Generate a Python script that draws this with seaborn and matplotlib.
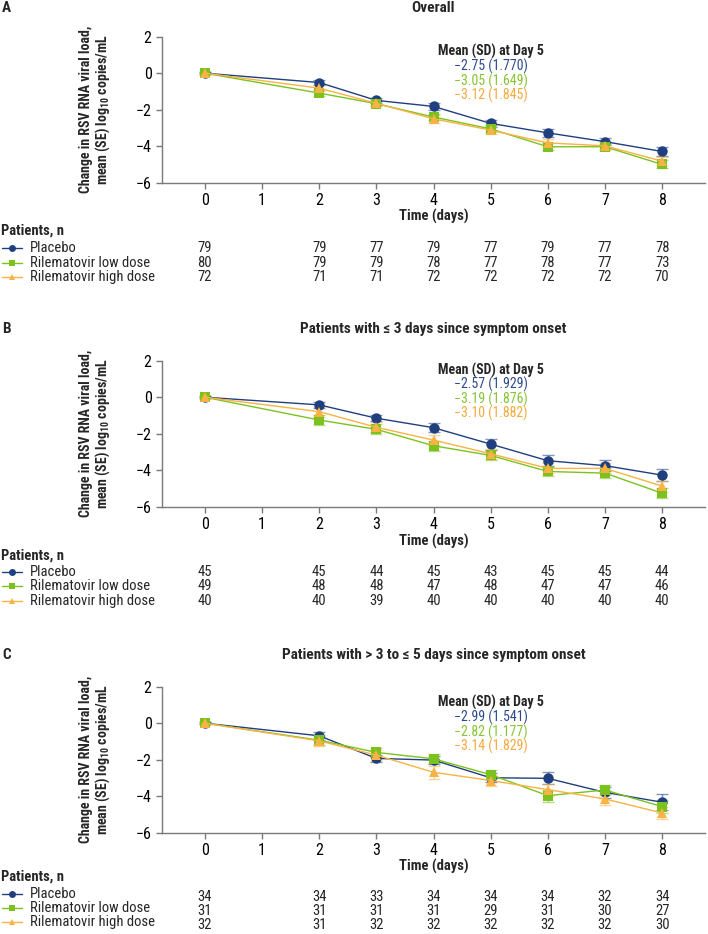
import numpy as np
import pandas as pd
import seaborn as sns
import matplotlib as mpl
import matplotlib.pyplot as plt
import matplotlib.transforms as mtransforms
from matplotlib import font_manager as fm
from matplotlib.lines import Line2D

sns.set_theme(style='ticks')

# pick a narrow sans if one is around, the original uses a condensed face
names = {f.name for f in fm.fontManager.ttflist}
narrow = None
for cand in ['Liberation Sans Narrow', 'Roboto Condensed', 'Open Sans Condensed',
             'Noto Sans Condensed', 'DejaVu Sans Condensed', 'Arial Narrow']:
    if cand in names:
        narrow = cand
        break
stretch = 'normal'
if narrow is None:
    for f in fm.fontManager.ttflist:
        st = f.stretch if isinstance(f.stretch, str) else ''
        if f.name in ('Roboto', 'Noto Sans', 'Open Sans', 'DejaVu Sans') and 'condensed' in st:
            narrow = f.name
            stretch = 'condensed'
            break
if narrow is None:
    narrow = 'Roboto'
plt.rcParams['font.family'] = [narrow, 'DejaVu Sans']
plt.rcParams['font.stretch'] = stretch
plt.rcParams['mathtext.fontset'] = 'custom'
plt.rcParams['mathtext.bf'] = narrow + ':bold'
plt.rcParams['mathtext.rm'] = narrow

# data
days = [0, 2, 3, 4, 5, 6, 7, 8]
groups = ['Placebo', 'Rilematovir low dose', 'Rilematovir high dose']

placebo_a = [0, -0.51, -1.49, -1.82, -2.75, -3.27, -3.75, -4.29]
low_a = [0, -1.09, -1.67, -2.40, -3.05, -4.03, -4.03, -5.00]
high_a = [0, -0.82, -1.65, -2.50, -3.12, -3.82, -3.98, -4.82]
placebo_a_se = [0.04, 0.12, 0.15, 0.17, 0.20, 0.21, 0.20, 0.25]
low_a_se = [0.04, 0.15, 0.14, 0.19, 0.19, 0.20, 0.16, 0.22]
high_a_se = [0.04, 0.15, 0.16, 0.22, 0.22, 0.22, 0.20, 0.23]

placebo_b = [0, -0.42, -1.15, -1.67, -2.57, -3.48, -3.75, -4.27]
low_b = [0, -1.25, -1.76, -2.66, -3.19, -4.07, -4.16, -5.26]
high_b = [0, -0.79, -1.65, -2.35, -3.10, -3.90, -3.90, -4.87]
placebo_b_se = [0.04, 0.18, 0.17, 0.26, 0.30, 0.30, 0.32, 0.31]
low_b_se = [0.04, 0.27, 0.27, 0.27, 0.27, 0.27, 0.28, 0.28]
high_b_se = [0.04, 0.27, 0.28, 0.28, 0.28, 0.28, 0.28, 0.30]

placebo_c = [0, -0.69, -1.93, -2.02, -2.99, -3.02, -3.79, -4.33]
low_c = [0, -0.93, -1.60, -1.95, -2.82, -3.97, -3.66, -4.57]
high_c = [0, -0.97, -1.75, -2.69, -3.14, -3.64, -4.15, -4.92]
placebo_c_se = [0.04, 0.23, 0.20, 0.20, 0.25, 0.33, 0.30, 0.44]
low_c_se = [0.04, 0.25, 0.25, 0.25, 0.25, 0.33, 0.30, 0.35]
high_c_se = [0.04, 0.30, 0.30, 0.35, 0.30, 0.33, 0.33, 0.35]

n_a = [[79, 79, 77, 79, 77, 79, 77, 78],
       [80, 79, 79, 78, 77, 78, 77, 73],
       [72, 71, 71, 72, 72, 72, 72, 70]]
n_b = [[45, 45, 44, 45, 43, 45, 45, 44],
       [49, 48, 48, 47, 48, 47, 47, 46],
       [40, 40, 39, 40, 40, 40, 40, 40]]
n_c = [[34, 34, 33, 34, 34, 34, 32, 34],
       [31, 31, 31, 31, 29, 31, 30, 27],
       [32, 31, 32, 32, 32, 32, 32, 30]]

day5_text_a = ['\u22122.75 (1.770)', '\u22123.05 (1.649)', '\u22123.12 (1.845)']
day5_text_b = ['\u22122.57 (1.929)', '\u22123.19 (1.876)', '\u22123.10 (1.882)']
day5_text_c = ['\u22122.99 (1.541)', '\u22122.82 (1.177)', '\u22123.14 (1.829)']

titles = ['Overall',
          'Patients with \u2264 3 days since symptom onset',
          'Patients with > 3 to \u2264 5 days since symptom onset']
letters = ['A', 'B', 'C']

colors = ['#1f3f7f', '#7cc21f', '#f9b244']
text_colors = ['#2d4b8c', '#86c535', '#f6a93c']
markers = ['o', 's', '^']

W, H = 708, 934
fig = plt.figure(figsize=(W / 100, H / 100), dpi=100)


def fy(p):
    return 1 - p / H


panels = [
    dict(means=[placebo_a, low_a, high_a], se=[placebo_a_se, low_a_se, high_a_se], n=n_a,
         txt=day5_text_a, top=36.7, head=1.18, title_y=8, time_y=216, pat_y=231,
         rows=[248, 263, 277], lab_rows=[248, 263, 277]),
    dict(means=[placebo_b, low_b, high_b], se=[placebo_b_se, low_b_se, high_b_se], n=n_b,
         txt=day5_text_b, top=360.7, head=1.49, title_y=329, time_y=541, pat_y=556,
         rows=[572, 586, 601], lab_rows=[572, 586, 601]),
    dict(means=[placebo_c, low_c, high_c], se=[placebo_c_se, low_c_se, high_c_se], n=n_c,
         txt=day5_text_c, top=686.7, head=1.12, title_y=655, time_y=866, pat_y=877,
         rows=[897, 911, 925], lab_rows=[894, 908, 922]),
]

fs = 10
for k, p in enumerate(panels):
    ax = fig.add_axes([162 / W, fy(p['top'] + 146), 543 / W, 146 / H])
    df = pd.DataFrame({
        'day': np.tile(days, 3),
        'change': np.concatenate(p['means']),
        'group': np.repeat(groups, len(days)),
    })
    for g, grp in enumerate(groups):
        ax.errorbar(days, p['means'][g], yerr=p['se'][g], fmt='none', ecolor=colors[g],
                    elinewidth=1, capsize=4.5, capthick=1, alpha=0.55, zorder=2)
    sns.lineplot(data=df, x='day', y='change', hue='group', style='group',
                 palette=dict(zip(groups, colors)), markers=dict(zip(groups, markers)),
                 dashes=False, markersize=7.5, markeredgewidth=0, linewidth=1,
                 legend=False, ax=ax, zorder=3)

    ax.set_xlim(-0.75, 8.75)
    ax.set_ylim(-6, 2)
    ax.set_xticks(range(0, 9))
    ax.set_yticks([-6, -4, -2, 0, 2])
    sns.despine(ax=ax)
    for s in ['left', 'bottom']:
        ax.spines[s].set_color('#7a7a7a')
        ax.spines[s].set_linewidth(1)
    ax.tick_params(colors='#7a7a7a', labelcolor='black', labelsize=fs + 1.5,
                   length=4, width=1)
    ax.set_xlabel('')
    ax.set_ylabel('Change in RSV RNA viral load,\nmean (SE) log$_{\\mathbf{10}}$ copies/mL',
                  fontsize=fs, fontweight='bold', linespacing=1.05)
    ax.yaxis.set_label_coords(-0.092, 0.5)

    fig.text(433.5 / W, fy(p['title_y']), titles[k], fontsize=fs + 1, fontweight='bold',
             ha='center', va='center')
    fig.text(2 / W, fy(p['title_y']), letters[k], fontsize=fs + 1, fontweight='bold', va='center')

    # day 5 summary
    ax.text(5.0, p['head'], 'Mean (SD) at Day 5', fontsize=fs, fontweight='bold',
            ha='center', va='center')
    for g in range(3):
        ax.text(5.0, p['head'] - 0.8 * (g + 1), p['txt'][g], fontsize=fs, ha='center',
                va='center', color=text_colors[g])

    fig.text(433.5 / W, fy(p['time_y']), 'Time (days)', fontsize=fs + 0.5, fontweight='bold',
             ha='center', va='center')

    # patients at risk table
    tr = mtransforms.blended_transform_factory(ax.transData, fig.transFigure)
    fig.text(1 / W, fy(p['pat_y']), 'Patients, n', fontsize=fs + 0.5, fontweight='bold', va='center')
    for g in range(3):
        yl = fy(p['lab_rows'][g])
        fig.add_artist(Line2D([2 / W, 22 / W], [yl, yl], transform=fig.transFigure,
                              color=colors[g], lw=1))
        fig.add_artist(Line2D([12 / W], [yl], transform=fig.transFigure, color=colors[g],
                              marker=markers[g], markersize=5, markeredgewidth=0, lw=0))
        fig.text(30 / W, yl, groups[g], fontsize=fs + 0.5, va='center')
        for d, val in zip(days, p['n'][g]):
            ax.text(d, fy(p['rows'][g]), str(val), transform=tr, fontsize=fs + 0.5,
                    ha='center', va='center', clip_on=False)

fig.savefig('out.png', dpi=100)
